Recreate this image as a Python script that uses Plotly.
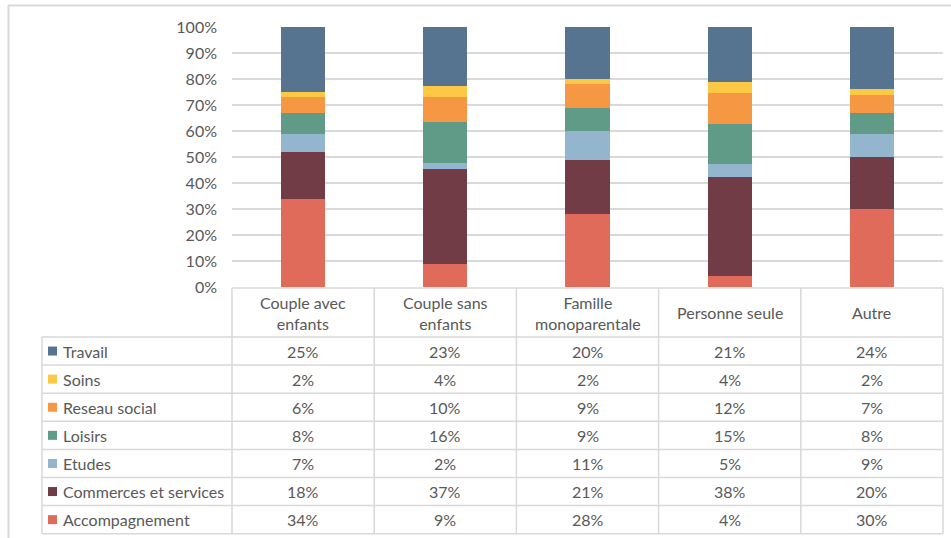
import plotly.graph_objects as go

W, H = 951, 538

categories = ["Couple avec enfants", "Couple sans enfants", "Famille monoparentale", "Personne seule", "Autre"]
header_lines = [["Couple avec", "enfants"], ["Couple sans", "enfants"], ["Famille", "monoparentale"], ["Personne seule"], ["Autre"]]

# series listed top row of table first
series_names = ["Travail", "Soins", "Reseau social", "Loisirs", "Etudes", "Commerces et services", "Accompagnement"]
travail = [25, 23, 20, 21, 24]
soins = [2, 4, 2, 4, 2]
reseau = [6, 10, 9, 12, 7]
loisirs = [8, 16, 9, 15, 8]
etudes = [7, 2, 11, 5, 9]
commerces = [18, 37, 21, 38, 20]
accompagnement = [34, 9, 28, 4, 30]
series_values = [travail, soins, reseau, loisirs, etudes, commerces, accompagnement]
colors = ["#56738F", "#FDC844", "#F69744", "#5F9B86", "#93B6CE", "#713C45", "#E16B5B"]
y_ticks = [0, 10, 20, 30, 40, 50, 60, 70, 80, 90, 100]

FONT = "Lato"
FS = 16
TXT = "#595959"
GRID = "#d9d9d9"

# layout geometry (pixels)
PLOT_L, PLOT_R = 232, 943
PLOT_T, PLOT_B = 27, 287
TABLE_L = 42
HEAD_T, HEAD_B = 288, 337
ROW_H = 28.1


def px(x):
    return x / W


def py(y):
    return 1 - y / H


fig = go.Figure()
# stack bottom-up: reverse order
for name, vals, col in reversed(list(zip(series_names, series_values, colors))):
    fig.add_trace(go.Bar(x=categories, y=vals, name=name, marker=dict(color=col, line=dict(width=0)),
                         showlegend=False))

shapes = []
annotations = []

# outer frame
shapes.append(dict(type="line", xref="paper", yref="paper", x0=px(8), x1=px(951), y0=py(5.5), y1=py(5.5),
                   line=dict(color=GRID, width=2)))
shapes.append(dict(type="line", xref="paper", yref="paper", x0=px(8.5), x1=px(8.5), y0=py(5), y1=py(538),
                   line=dict(color=GRID, width=2)))

# table grid
ncol = len(categories)
col_w = (PLOT_R - PLOT_L) / ncol
col_edges = [PLOT_L + i * col_w for i in range(ncol + 1)]
row_edges = [HEAD_B + i * ROW_H for i in range(len(series_names) + 1)]
table_bottom = row_edges[-1]

shapes.append(dict(type="line", xref="paper", yref="paper", x0=px(PLOT_L), x1=px(PLOT_R), y0=py(HEAD_T),
                   y1=py(HEAD_T), line=dict(color=GRID, width=1.5)))
for y in row_edges:
    shapes.append(dict(type="line", xref="paper", yref="paper", x0=px(TABLE_L), x1=px(PLOT_R), y0=py(y),
                       y1=py(y), line=dict(color=GRID, width=1.5)))
shapes.append(dict(type="line", xref="paper", yref="paper", x0=px(TABLE_L), x1=px(TABLE_L), y0=py(HEAD_B),
                   y1=py(table_bottom), line=dict(color=GRID, width=1.5)))
for x in col_edges:
    shapes.append(dict(type="line", xref="paper", yref="paper", x0=px(x), x1=px(x), y0=py(HEAD_T),
                       y1=py(table_bottom), line=dict(color=GRID, width=1.5)))

# header text
for i, lines in enumerate(header_lines):
    cx = (col_edges[i] + col_edges[i + 1]) / 2
    annotations.append(dict(xref="paper", yref="paper", x=px(cx), y=py((HEAD_T + HEAD_B) / 2),
                            text="<br>".join(lines), showarrow=False, xanchor="center", yanchor="middle",
                            font=dict(family=FONT, size=FS, color=TXT), align="center"))

# rows
for r, (name, vals, col) in enumerate(zip(series_names, series_values, colors)):
    cy = (row_edges[r] + row_edges[r + 1]) / 2
    shapes.append(dict(type="rect", xref="paper", yref="paper", x0=px(48), x1=px(57), y0=py(cy - 4.5),
                       y1=py(cy + 4.5), fillcolor=col, line=dict(width=0)))
    annotations.append(dict(xref="paper", yref="paper", x=px(61), y=py(cy), text=name, showarrow=False,
                            xanchor="left", yanchor="middle", font=dict(family=FONT, size=FS, color=TXT)))
    for i, v in enumerate(vals):
        cx = (col_edges[i] + col_edges[i + 1]) / 2
        annotations.append(dict(xref="paper", yref="paper", x=px(cx), y=py(cy), text=f"{v}%", showarrow=False,
                                xanchor="center", yanchor="middle", font=dict(family=FONT, size=FS, color=TXT)))

fig.update_layout(
    width=W, height=H,
    margin=dict(l=0, r=0, t=0, b=0, pad=0, autoexpand=False),
    paper_bgcolor="white", plot_bgcolor="white",
    barmode="stack", barnorm="percent", bargap=0.69,
    font=dict(family=FONT, size=FS, color=TXT),
    shapes=shapes, annotations=annotations,
    xaxis=dict(domain=[px(PLOT_L), px(PLOT_R)], showticklabels=False, showgrid=False, zeroline=False,
               showline=False, ticks="", automargin=False),
    yaxis=dict(domain=[py(PLOT_B), py(PLOT_T)], range=[0, 100], tickvals=y_ticks,
               ticktext=[f"{t}%" for t in y_ticks], showgrid=True, gridcolor=GRID, gridwidth=1.5,
               zeroline=False, showline=False, ticks="", ticklabelstandoff=14, automargin=False,
               tickfont=dict(family=FONT, size=FS, color=TXT)),
)

fig.write_html("out.html", config={"displayModeBar": False},
               post_script="document.body.style.margin='0';document.body.style.overflow='hidden';")
